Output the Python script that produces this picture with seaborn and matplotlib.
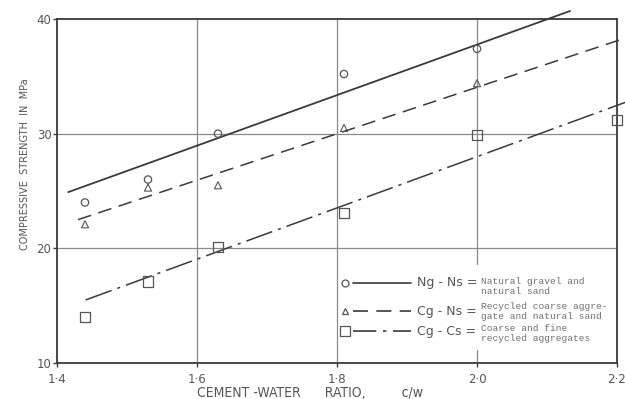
import matplotlib
matplotlib.use("Agg")
import matplotlib.pyplot as plt
import seaborn as sns
from matplotlib.lines import Line2D
from matplotlib.patches import Rectangle
from matplotlib import font_manager as fm

# ---- data ----
cw_main = [1.44, 1.53, 1.63, 1.81, 2.00]
ng_ns = [24.0, 26.0, 30.0, 35.2, 37.4]
cg_ns = [22.1, 25.3, 25.5, 30.5, 34.4]
cw_cs = [1.44, 1.53, 1.63, 1.81, 2.00, 2.20]
cg_cs = [14.0, 17.1, 20.1, 23.1, 29.9, 31.2]

# fitted lines (end points)
fit_ng_x = [1.416, 2.133]
fit_ng_y = [24.9, 40.7]
fit_cgns_x = [1.430, 2.215]
fit_cgns_y = [22.5, 38.4]
fit_cgcs_x = [1.441, 2.215]
fit_cgcs_y = [15.5, 32.8]

x_ticks = [1.4, 1.6, 1.8, 2.0, 2.2]
x_tick_labels = ["1·4", "1·6", "1·8", "2·0", "2·2"]
y_ticks = [10, 20, 30, 40]

legend_codes = ["Ng - Ns =", "Cg - Ns =", "Cg - Cs ="]
legend_desc = [["Natural gravel and", "natural sand"],
               ["Recycled coarse aggre-", "gate and natural sand"],
               ["Coarse and fine", "recycled aggregates"]]

sns.set_theme(style="white")
plt.rcParams['font.family'] = ['DejaVu Sans']

ink = "#3a3a3a"
txt = "#555555"
grid = "#8a8a8a"

fig = plt.figure(figsize=(6.25, 3.99), dpi=100)
ax = fig.add_axes([57/625, 1-363/399, 560/625, 344/399])

ax.set_xlim(1.4, 2.2)
ax.set_ylim(10, 40)

# grid
for gx in [1.6, 1.8, 2.0]:
    ax.axvline(gx, color=grid, lw=0.9, zorder=0)
for gy in [20, 30]:
    ax.axhline(gy, color=grid, lw=0.9, zorder=0)

# legend background box (covers grid)
ax.add_patch(Rectangle((0.508, 0.038), 0.488, 0.247, transform=ax.transAxes,
                       facecolor="white", edgecolor="none", zorder=1))

# fitted lines
sns.lineplot(x=fit_ng_x, y=fit_ng_y, ax=ax, color=ink, lw=1.3, clip_on=False, zorder=3)
sns.lineplot(x=fit_cgns_x, y=fit_cgns_y, ax=ax, color=ink, lw=1.1, clip_on=False, zorder=3)
ax.lines[-1].set_dashes([9, 5])
sns.lineplot(x=fit_cgcs_x, y=fit_cgcs_y, ax=ax, color=ink, lw=1.1, clip_on=False, zorder=3)
ax.lines[-1].set_dashes([18, 4, 2, 4])

# points
sns.scatterplot(x=cw_main, y=ng_ns, ax=ax, marker="o", s=28, facecolor="none",
                edgecolor="#555555", linewidth=0.9, clip_on=False, zorder=4)
sns.scatterplot(x=cw_main, y=cg_ns, ax=ax, marker="^", s=26, facecolor="none",
                edgecolor="#555555", linewidth=0.8, clip_on=False, zorder=4)
sns.scatterplot(x=cw_cs, y=cg_cs, ax=ax, marker="s", s=55, facecolor="none",
                edgecolor="#555555", linewidth=0.9, clip_on=False, zorder=4)

# frame
for sp in ax.spines.values():
    sp.set_visible(True)
    sp.set_color(ink)
    sp.set_linewidth(1.3)

ax.set_xticks(x_ticks)
ax.set_xticklabels(x_tick_labels)
ax.set_yticks(y_ticks)
ax.tick_params(axis="both", direction="out", length=3, width=1, color=ink,
               labelcolor=txt, labelsize=8.5, left=True, bottom=True)
ax.tick_params(axis="x", pad=4)
ax.tick_params(axis="y", pad=1)

condx = fm.FontProperties(family="DejaVu Sans", stretch="condensed", size=10)
condy = fm.FontProperties(family="DejaVu Sans", stretch="condensed", size=7.8)
ax.set_xlabel("CEMENT -WATER      RATIO,         c/w", color=txt, fontproperties=condx)
ax.xaxis.set_label_coords(0.452, -0.066)
ax.set_ylabel("COMPRESSIVE  STRENGTH  IN  MPa", color=txt, fontproperties=condy)
ax.yaxis.set_label_coords(-0.048, 0.578)

# manual legend
row_y = [0.2326, 0.151, 0.093]
desc_y = [[0.238, 0.209], [0.163, 0.134], [0.099, 0.070]]
markers = ["o", "^", "s"]
msizes = [5, 5, 7]
dashes = [None, [9, 5], [14, 4, 2, 4]]
for i in range(3):
    ax.add_line(Line2D([0.514], [row_y[i]], transform=ax.transAxes, marker=markers[i],
                       ms=msizes[i], mfc="none", mec="#555555", mew=0.9, ls="none", zorder=5))
    ln = Line2D([0.528, 0.632], [row_y[i], row_y[i]], transform=ax.transAxes,
                color=ink, lw=1.2, zorder=5)
    if dashes[i]:
        ln.set_dashes(dashes[i])
    ax.add_line(ln)
    ax.text(0.643, row_y[i], legend_codes[i], transform=ax.transAxes, fontsize=9,
            color=txt, va="center", ha="left", zorder=6)
    for j in range(2):
        ax.text(0.757, desc_y[i][j], legend_desc[i][j], transform=ax.transAxes,
                fontsize=6.8, family="Liberation Mono", color="#707070",
                va="center", zorder=6)

fig.savefig("out.png", dpi=100)
